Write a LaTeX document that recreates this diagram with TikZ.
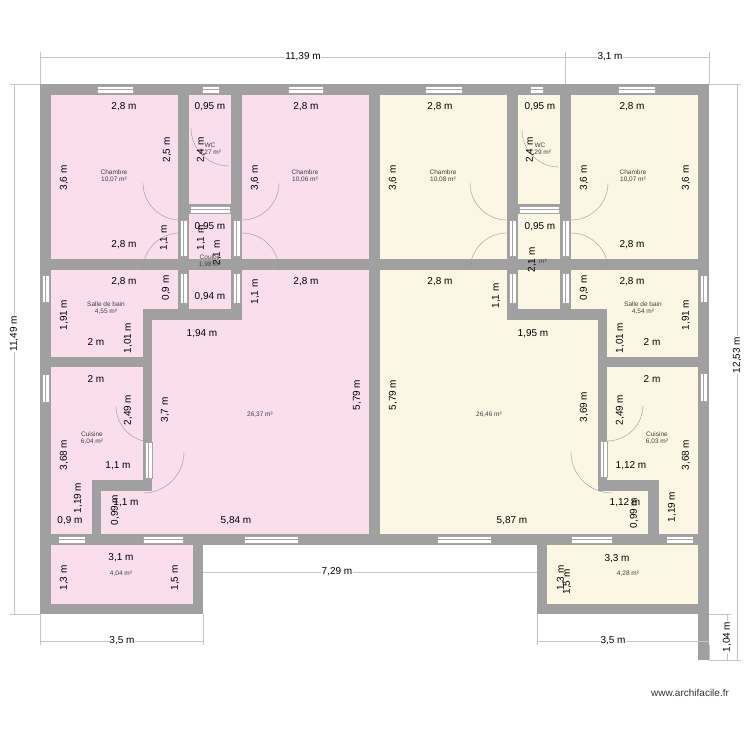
\documentclass[tikz,border=0pt]{standalone}
\usepackage{fontspec}
\setmainfont{Liberation Sans}
\begin{document}
\begin{tikzpicture}[x=1pt,y=-1pt,
  wall/.style={fill=wallgray,draw=none},
  win/.style={fill=white,draw=gray!70,line width=0.4pt},
  dl/.style={draw=gray!45,line width=0.4pt},
  dim/.style={font=\fontsize{10}{10}\selectfont,inner sep=0.5pt},
  dimr/.style={dim,rotate=90},
  rl/.style={font=\fontsize{6.5}{7}\selectfont,text=black!75,align=center,inner sep=0pt},
  arcst/.style={draw=gray!80,line width=0.4pt}]
\definecolor{wallgray}{RGB}{160,160,160}
\definecolor{rose}{RGB}{250,222,236}
\definecolor{jaune}{RGB}{252,247,228}
\useasboundingbox (0,0) rectangle (750,750);
\fill[white] (0,0) rectangle (750,750);
% room fills
\fill[rose] (40,84) rectangle (375,545);
\fill[rose] (40,545) rectangle (203,614);
\fill[jaune] (375,84) rectangle (709,545);
\fill[jaune] (537,545) rectangle (709,614);
% walls
\foreach \a/\b/\c/\d in {40/84/709/95, 40/84/51/614, 698/84/709/660, 369/84/380/545,
 178/95/189/320, 231/95/242/320, 507/95/518/320, 560/95/571/320,
 51/259/369/270, 380/259/698/270, 189/204/231/214, 518/204/560/214,
 143/309/242/320, 507/309/607/320, 143/309/152/491, 598/309/607/491,
 51/357/152/367, 598/357/698/367, 92/480/152/491, 598/480/659/491,
 92/480/101/545, 648/480/659/545, 40/534/709/545,
 193/534/203/614, 40/604/203/614, 537/534/547/614, 537/604/709/614}
 {\fill[wall] (\a,\b) rectangle (\c,\d);}
% windows and door openings (horizontal)
\foreach \a/\b/\y in {97/133/84, 202/219/84, 288/323/84, 425/462/84, 530/543/84, 618/655/84,
  190/230/204, 519/559/204, 58/85/534, 143/183/534, 244/298/534, 437/491/534, 571/612/534, 666/693/534}
 {\draw[win] (\a,\y+2) rectangle (\b,\y+9);
  \draw[gray!70,line width=0.3pt] (\a,\y+5.5) -- (\b,\y+5.5);}
% vertical openings
\foreach \x/\a/\b in {40/275/302, 40/374/402, 698/275/302, 698/373/401,
  178/220/256, 231/220/256, 178/273/303, 231/273/303,
  507/220/256, 560/220/256, 507/273/303, 560/273/303, 143/442/478, 598/441/477}
 {\draw[win] (\x+2,\a) rectangle (\x+9,\b);
  \draw[gray!70,line width=0.3pt] (\x+5.5,\a) -- (\x+5.5,\b);}
% door arcs
\draw[arcst] (229,166) arc (90:180:38);
\draw[arcst] (559,167) arc (90:180:37);
\draw[arcst] (180,220) arc (90:180:37);
\draw[arcst] (143,270) arc (180:270:37);
\draw[arcst] (242,220) arc (90:0:37);
\draw[arcst] (279,270) arc (0:-90:37);
\draw[arcst] (507,220) arc (90:180:37);
\draw[arcst] (470,270) arc (180:270:37);
\draw[arcst] (571,220) arc (90:0:37);
\draw[arcst] (608,270) arc (0:-90:37);
\draw[arcst] (152,442) arc (90:180:36);
\draw[arcst] (607,441) arc (90:0:36);
\draw[arcst] (143,493) arc (90:0:41);
\draw[arcst] (612,493) arc (90:180:41);
% outer dimension lines
\draw[dl] (40,57) -- (709,57) (40,52) -- (40,84) (565,52) -- (565,84) (709,52) -- (709,84);
\draw[dl] (14,84) -- (14,614) (10,84) -- (40,84) (10,614) -- (40,614);
\draw[dl] (737,84) -- (737,660) (709,84) -- (741,84) (709,660) -- (741,660);
\draw[dl] (727,614) -- (727,660) (709,614) -- (731,614);
\draw[dl] (40,641) -- (203,641) (40,614) -- (40,645) (203,614) -- (203,645);
\draw[dl] (537,641) -- (709,641) (537,614) -- (537,645) (709,660) -- (709,645);
\draw[dl] (203,572) -- (537,572);
\node[dim,fill=white] at (303,57) {11,39 m};
\node[dim,fill=white] at (610,57) {3,1 m};
\node[dimr,fill=white] at (14,334) {11,49 m};
\node[dimr,fill=white] at (737,355) {12,53 m};
\node[dimr,fill=white] at (727,637) {1,04 m};
\node[dim,fill=white] at (122,641) {3,5 m};
\node[dim,fill=white] at (613,641) {3,5 m};
\node[dim,fill=white] at (337,572) {7,29 m};
% interior dimension labels
\foreach \x/\y/\t in {124/107/{2,8 m}, 210/107/{0,95 m}, 306/107/{2,8 m},
 124/245/{2,8 m}, 210/227/{0,95 m}, 124/282/{2,8 m}, 210/297/{0,94 m}, 306/282/{2,8 m},
 96/342/{2 m}, 202/334/{1,94 m}, 96/379/{2 m}, 118/466/{1,1 m}, 126/503/{1,1 m},
 70/521/{0,9 m}, 236/521/{5,84 m}, 121/558/{3,1 m},
 440/107/{2,8 m}, 540/107/{0,95 m}, 632/107/{2,8 m}, 540/227/{0,95 m}, 632/245/{2,8 m},
 440/282/{2,8 m}, 632/282/{2,8 m}, 533/334/{1,95 m}, 652/342/{2 m}, 652/379/{2 m},
 631/466/{1,12 m}, 625/503/{1,12 m}, 512/521/{5,87 m}, 617/559/{3,3 m}}
 {\node[dim] at (\x,\y) {\t};}
\foreach \x/\y/\t in {64/178/{3,6 m}, 167/150/{2,5 m}, 201/150/{2,4 m}, 255/178/{3,6 m},
 164/238/{1,1 m}, 201/238/{1,1 m}, 217/253/{2,1 m}, 166/288/{0,9 m}, 255/292/{1,1 m},
 64/315/{1,91 m}, 128/338/{1,01 m}, 165/410/{3,7 m}, 357/395/{5,79 m}, 128/410/{2,49 m},
 64/455/{3,68 m}, 78/498/{1,19 m}, 115/510/{0,99 m}, 64/578/{1,3 m}, 175/578/{1,5 m},
 393/178/{3,6 m}, 530/150/{2,4 m}, 584/178/{3,6 m}, 686/178/{3,6 m}, 532/260/{2,1 m},
 496/296/{1,1 m}, 584/288/{0,9 m}, 686/315/{1,91 m}, 620/338/{1,01 m}, 393/395/{5,79 m},
 584/407/{3,69 m}, 620/410/{2,49 m}, 686/455/{3,68 m}, 634/513/{0,99 m}, 672/507/{1,19 m},
 561/578/{1,3 m}, 567/582/{1,5 m}}
 {\node[dimr] at (\x,\y) {\t};}
% room labels
\node[rl] at (114,176) {Chambre\\10,07 m²};
\node[rl] at (305,176) {Chambre\\10,06 m²};
\node[rl] at (210,149) {WC\\1,27 m²};
\node[rl] at (210,261) {Couloir\\1,98 m²};
\node[rl] at (106,308) {Salle de bain\\4,55 m²};
\node[rl] at (92,438) {Cuisine\\6,04 m²};
\node[rl] at (260,415) {26,37 m²};
\node[rl] at (121,574) {4,04 m²};
\node[rl] at (443,176) {Chambre\\10,08 m²};
\node[rl] at (633,176) {Chambre\\10,07 m²};
\node[rl] at (540,149) {WC\\1,29 m²};
\node[rl] at (543,261) {m²};
\node[rl] at (643,308) {Salle de bain\\4,54 m²};
\node[rl] at (657,438) {Cuisine\\6,03 m²};
\node[rl] at (489,415) {26,46 m²};
\node[rl] at (628,574) {4,28 m²};
\node[font=\fontsize{10}{10}\selectfont,text=black!80] at (690,693) {www.archifacile.fr};
\end{tikzpicture}
\end{document}
